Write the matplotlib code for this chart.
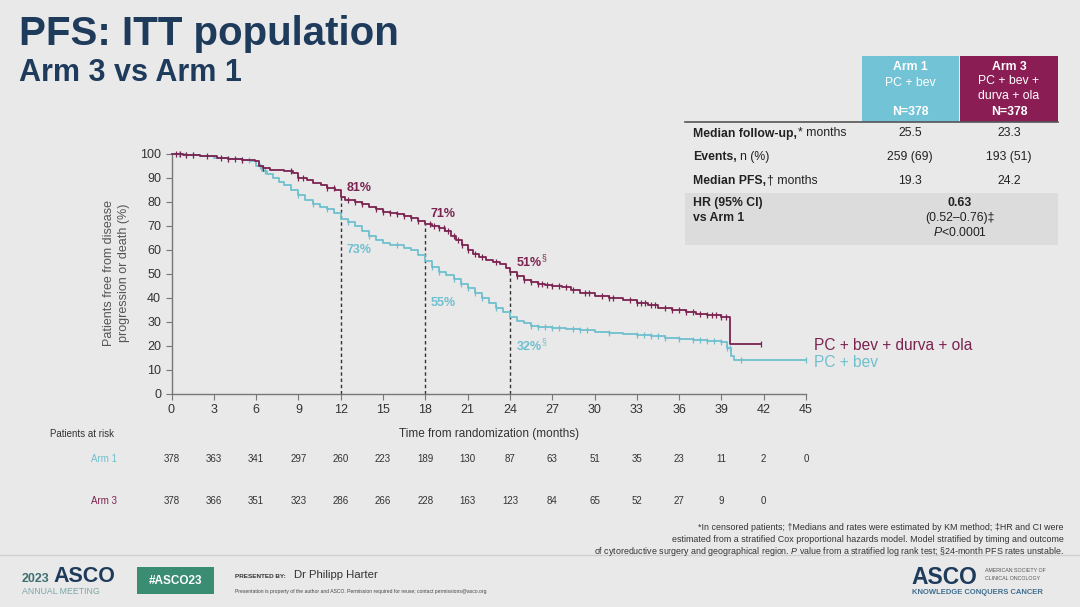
import numpy as np
import matplotlib
matplotlib.use("Agg")
import matplotlib.pyplot as plt
from matplotlib.patches import Rectangle
from matplotlib.transforms import blended_transform_factory

plt.rcParams['font.family'] = ['Liberation Sans', 'DejaVu Sans']
plt.rcParams['mathtext.fontset'] = 'custom'
plt.rcParams['mathtext.rm'] = 'Liberation Sans'
plt.rcParams['mathtext.it'] = 'Liberation Sans:italic'
plt.rcParams['mathtext.bf'] = 'Liberation Sans:bold'

# ---- data ----
arm3_t = [0, 0.8, 2, 3.2, 4, 5, 5.9, 6.2, 6.5, 7, 8, 8.6, 9, 9.6, 10, 10.6, 11, 11.6, 12, 12.3,
          13, 13.5, 14, 14.5, 15, 15.5, 16, 16.5, 17, 17.5, 18, 18.5, 19, 19.4, 19.8, 20.2, 20.6,
          21, 21.4, 21.8, 22.3, 22.8, 23.3, 23.7, 24, 24.5, 25, 25.5, 26, 26.5, 27, 27.7, 28.3,
          29, 30, 31, 32, 33, 33.8, 34.5, 35.5, 36.5, 37.2, 38, 39, 39.6, 41.8]
arm3_s = [100, 99.5, 99, 98.5, 98, 97.5, 97, 95, 94, 93.5, 93, 92, 90, 89, 88, 87, 86, 85, 82, 81,
          80, 79, 78, 77, 76, 75.5, 75, 74, 73.5, 72, 71, 70, 69, 68, 66, 64, 62,
          60, 58.5, 57, 56, 55, 54, 52.5, 51, 49, 47.5, 46.5, 46, 45.5, 45, 44.5, 43.5,
          42, 41, 40, 39, 38, 37, 36, 35, 34, 33.5, 33, 32, 21, 21]
arm1_t = [0, 1, 2, 3, 4, 5, 5.6, 6, 6.4, 6.8, 7.2, 7.6, 8, 8.5, 9, 9.5, 10, 10.5, 11, 11.5, 12,
          12.5, 13, 13.5, 14, 14.5, 15, 15.5, 16, 16.5, 17, 17.5, 18, 18.5, 19, 19.5, 20, 20.5,
          21, 21.5, 22, 22.5, 23, 23.5, 24, 24.5, 25, 25.5, 26, 27, 28, 29, 30, 31, 32, 33, 34,
          35, 36, 37, 38, 39, 39.4, 39.7, 39.9, 45]
arm1_s = [100, 99.5, 99, 98.5, 98, 97.5, 97, 95, 93, 91.5, 90, 88.5, 87, 85, 83, 81, 79, 78, 77,
          75.5, 73, 71.5, 70, 68, 66, 64, 63, 62, 62, 61, 60, 58, 55.5, 53, 51, 49.5, 48, 46,
          44, 42, 40, 38, 36, 34, 32, 30.5, 29.5, 28.5, 28, 27.5, 27, 26.5, 26, 25.5, 25, 24.5,
          24, 23.5, 23, 22.5, 22, 21.5, 19, 16, 14, 14]

arm3_cens = [0.3, 0.6, 1, 1.5, 2.5, 3.5, 4, 4.5, 5, 6.5, 8.5, 9, 9.3, 11, 11.5, 12.5, 13, 13.5,
             14.5, 15, 15.5, 16, 16.5, 17, 17.5, 18.3, 18.6, 19, 19.3, 19.6, 20, 20.3, 20.6, 21,
             21.5, 22, 23, 24.5, 25, 25.5, 26, 26.3, 26.6, 27, 27.5, 28, 28.5, 29.3, 29.6, 30.5,
             31, 31.3, 32.5, 33, 33.3, 33.6, 34, 34.3, 35, 35.5, 36, 36.5, 37, 37.5, 38, 38.3,
             38.6, 39, 39.3, 41.8]
arm1_cens = [0.5, 1, 1.5, 4, 5, 5.5, 6.3, 6.6, 9, 10, 11, 12.5, 14, 16, 18.5, 19, 20, 20.5, 21,
             21.5, 22, 23, 25.5, 26, 26.5, 27, 27.5, 28.5, 29, 29.5, 31, 33, 33.5, 34, 34.5, 35,
             36, 37, 37.5, 38, 38.5, 39, 39.4, 39.6, 40.4, 45]

landmarks = [12, 18, 24]
arm3_landmark = ["81%", "71%", r"51%$^{\S}$"]
arm1_landmark = ["73%", "55%", r"32%$^{\S}$"]
arm3_landmark_y = [86, 75, 55]
arm1_landmark_y = [60, 38, 20]

risk_times = list(range(0, 46, 3))
risk_arm1 = [378, 363, 341, 297, 260, 223, 189, 130, 87, 63, 51, 35, 23, 11, 2, 0]
risk_arm3 = [378, 366, 351, 323, 286, 266, 228, 163, 123, 84, 65, 52, 27, 9, 0]

rows = ["Median follow-up,", "Events,", "Median PFS,"]
rows_tail = ["* months", "n (%)", "\u2020 months"]
arm1_vals = ["25.5", "259 (69)", "19.3"]
arm3_vals = ["23.3", "193 (51)", "24.2"]

PURPLE = '#7b2350'
TEAL = '#6fc0cf'
NAVY = '#1f3b5c'
BG = '#e9e9e9'
W, H = 1080, 607

fig = plt.figure(figsize=(W / 100, H / 100), dpi=100, facecolor=BG)


def px(x, y):
    return x / W, 1 - y / H


def km_y(times, surv, pts):
    idx = np.searchsorted(times, pts, side='right') - 1
    return np.array(surv)[idx]


ax = fig.add_axes([171.5 / W, 1 - 394 / H, 634.5 / W, 240 / H])
ax.set_facecolor(BG)
ax.step(arm1_t, arm1_s, where='post', color=TEAL, lw=1.3, clip_on=False, zorder=3)
ax.step(arm3_t, arm3_s, where='post', color=PURPLE, lw=1.3, clip_on=False, zorder=4)
ax.plot(arm1_cens, km_y(arm1_t, arm1_s, arm1_cens), ls='none', marker='|', ms=5, mew=0.9,
        color=TEAL, clip_on=False, zorder=3)
ax.plot(arm3_cens, km_y(arm3_t, arm3_s, arm3_cens), ls='none', marker='|', ms=5, mew=0.9,
        color=PURPLE, clip_on=False, zorder=4)

lm3 = km_y(arm3_t, arm3_s, landmarks)
ax.vlines(landmarks, 0, lm3, colors='#333333', linestyles=(0, (2.5, 2)), lw=1, zorder=2)
for x, lab, y in zip(landmarks, arm3_landmark, arm3_landmark_y):
    ax.text(x + 0.4, y, lab, color=PURPLE, fontsize=9, fontweight='bold', va='center')
for x, lab, y in zip(landmarks, arm1_landmark, arm1_landmark_y):
    ax.text(x + 0.4, y, lab, color=TEAL, fontsize=9, fontweight='bold', va='center')

ax.text(45.6, 20, "PC + bev + durva + ola", color=PURPLE, fontsize=11.2, va='center')
ax.text(45.6, 13.3, "PC + bev", color=TEAL, fontsize=11.2, va='center')

ax.set_xlim(0, 45)
ax.set_ylim(0, 100)
ax.set_xticks(risk_times)
ax.set_yticks(range(0, 101, 10))
for s in ['top', 'right']:
    ax.spines[s].set_visible(False)
for s in ['left', 'bottom']:
    ax.spines[s].set_color('#777777')
    ax.spines[s].set_linewidth(1)
ax.tick_params(colors='#777777', labelcolor='#333333', labelsize=9, length=4, direction='out')

fig.text(*px(109, 273), "Patients free from disease", rotation=90, ha='center', va='center',
         fontsize=9, color='#555555')
fig.text(*px(124, 273), "progression or death (%)", rotation=90, ha='center', va='center',
         fontsize=9, color='#555555')
fig.text(*px(489, 434), "Time from randomization (months)", ha='center', va='center',
         fontsize=8.5, color='#333333')

# numbers at risk
tr = blended_transform_factory(ax.transData, fig.transFigure)
fig.text(*px(50, 434), "Patients at risk", ha='left', va='center', fontsize=7, color='#333333')
fig.text(*px(117, 459), "Arm 1", ha='right', va='center', fontsize=7, color=TEAL)
fig.text(*px(117, 501), "Arm 3", ha='right', va='center', fontsize=7, color=PURPLE)
for t, n in zip(risk_times, risk_arm1):
    ax.text(t, 1 - 459 / H, str(n), transform=tr, ha='center', va='center', fontsize=7, color='#333333')
for t, n in zip(risk_times, risk_arm3):
    ax.text(t, 1 - 501 / H, str(n), transform=tr, ha='center', va='center', fontsize=7, color='#333333')

# titles
fig.text(*px(19, 34), "PFS: ITT population", fontsize=29, fontweight='bold', color=NAVY, va='center')
fig.text(*px(19, 73), "Arm 3 vs Arm 1", fontsize=22, fontweight='bold', color=NAVY, va='center')

# summary table
fig.patches.append(Rectangle(px(862, 122), 97 / W, 66 / H, transform=fig.transFigure,
                             facecolor='#72c3d5', edgecolor='none'))
fig.patches.append(Rectangle(px(960, 122), 98 / W, 66 / H, transform=fig.transFigure,
                             facecolor='#8b1d55', edgecolor='none'))
fig.patches.append(Rectangle(px(685, 245), 373 / W, 52 / H, transform=fig.transFigure,
                             facecolor='#dcdcdc', edgecolor='none'))
fig.lines.append(plt.Line2D([685 / W, 1058 / W], [1 - 122 / H] * 2, transform=fig.transFigure,
                            color='#555555', lw=1.2))
hdr = dict(ha='center', va='center', fontsize=8.8, color='white')
fig.text(*px(910, 67), "Arm 1", fontweight='bold', **hdr)
fig.text(*px(910, 83), "PC + bev", **hdr)
fig.text(*px(910, 112), "N=378", fontweight='bold', **hdr)
fig.text(*px(1009, 67), "Arm 3", fontweight='bold', **hdr)
fig.text(*px(1009, 81), "PC + bev +", **hdr)
fig.text(*px(1009, 96), "durva + ola", **hdr)
fig.text(*px(1009, 112), "N=378", fontweight='bold', **hdr)

TS = 8.8
renderer = fig.canvas.get_renderer()
for i, (lab, tail) in enumerate(zip(rows, rows_tail)):
    y = 136.5 + i * 23.5
    t = fig.text(*px(693, y), lab, fontsize=TS, fontweight='bold', color='#222222', va='baseline')
    bb = t.get_window_extent(renderer)
    gap = 1 if tail[0] in "*\u2020" else 3
    fig.text(*px(693 + bb.width + gap, y), tail, fontsize=TS, color='#222222', va='baseline')
    fig.text(*px(910, y), arm1_vals[i], fontsize=TS, color='#222222', ha='center', va='baseline')
    fig.text(*px(1009, y), arm3_vals[i], fontsize=TS, color='#222222', ha='center', va='baseline')

fig.text(*px(693, 203), "HR (95% CI)", fontsize=TS, fontweight='bold', color='#222222', va='center')
fig.text(*px(693, 218), "vs Arm 1", fontsize=TS, fontweight='bold', color='#222222', va='center')
fig.text(*px(960, 203), "0.63", fontsize=TS, fontweight='bold', color='#222222', ha='center', va='center')
fig.text(*px(960, 218), "(0.52\u20130.76)\u2021", fontsize=TS, color='#222222', ha='center', va='center')
fig.text(*px(960, 232), "$P$<0.0001", fontsize=TS, color='#222222', ha='center', va='center')

# footnotes
foot = ["*In censored patients; \u2020Medians and rates were estimated by KM method; \u2021HR and CI were",
        "estimated from a stratified Cox proportional hazards model. Model stratified by timing and outcome",
        "of cytoreductive surgery and geographical region. $P$ value from a stratified log rank test; \u00a724-month PFS rates unstable."]
for i, line in enumerate(foot):
    fig.text(*px(1064, 528 + i * 12), line, fontsize=6.4, color='#333333', ha='right', va='center')

fig.lines.append(plt.Line2D([0, 1], [1 - 555 / H] * 2, transform=fig.transFigure,
                            color='#d0d0d0', lw=1))

# footer
fig.text(*px(22, 579), "2023", fontsize=9, fontweight='bold', color='#3d6e70', va='center')
fig.text(*px(53, 577), "ASCO", fontsize=15.5, fontweight='bold', color=NAVY, va='center')
fig.text(*px(22, 591), "ANNUAL MEETING", fontsize=6.3, color='#7aa7a8', va='center')
fig.patches.append(Rectangle(px(137, 594), 77 / W, 27 / H, transform=fig.transFigure,
                             facecolor='#3a8c72', edgecolor='none'))
fig.text(*px(175.5, 580.5), "#ASCO23", fontsize=8.5, fontweight='bold', color='white',
         ha='center', va='center')
fig.text(*px(235, 576), "PRESENTED BY:", fontsize=4.6, fontweight='bold', color='#333333', va='center')
fig.text(*px(294, 575), "Dr Philipp Harter", fontsize=8.2, color='#333333', va='center')
fig.text(*px(235, 592), "Presentation is property of the author and ASCO. Permission required for reuse; "
         "contact permissions@asco.org", fontsize=3.6, color='#444444', va='center')

fig.text(*px(911, 577), "ASCO", fontsize=16.5, fontweight='bold', color=NAVY, va='center')
fig.text(*px(985, 571), "AMERICAN SOCIETY OF", fontsize=3.8, color='#555555', va='center')
fig.text(*px(985, 578), "CLINICAL ONCOLOGY", fontsize=3.8, color='#555555', va='center')
fig.text(*px(912, 593), "KNOWLEDGE CONQUERS CANCER", fontsize=5.5, fontweight='bold',
         color='#3f6f8f', va='center')

fig.savefig("out.png", dpi=100, facecolor=BG)
